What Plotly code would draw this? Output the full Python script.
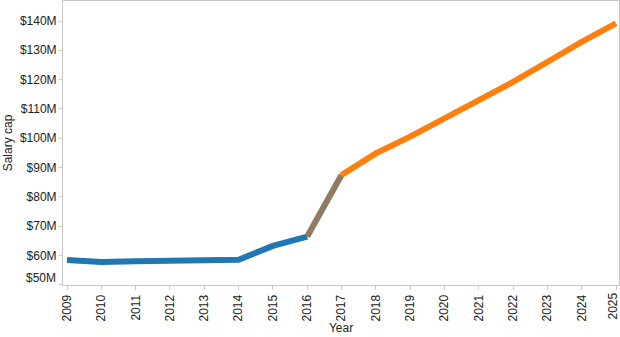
import plotly.graph_objects as go

years = [2009, 2010, 2011, 2012, 2013, 2014, 2015, 2016, 2017, 2018, 2019, 2020, 2021, 2022, 2023, 2024, 2025]
salary_cap_m = [58.4, 57.7, 58.0, 58.0, 58.0, 58.5, 63.2, 66.4, 87.4, 94.8, 100.5, 106.6, 112.6, 119.2, 126.0, 132.9, 139.2]
actual_end_year = 2016   # last year of the blue (actual) series
y_tickvals = [50, 60, 70, 80, 90, 100, 110, 120, 130, 140]
y_ticktext = ["$%dM" % v for v in y_tickvals]

BLUE = "#1f77b4"
ORANGE = "#ff7f0e"
MID = "#8f7b62"
FONT = "Liberation Sans, Arial, sans-serif"
TXT = "#222222"

i_end = years.index(actual_end_year)

fig = go.Figure()
fig.add_trace(go.Scatter(x=years[:i_end + 1], y=salary_cap_m[:i_end + 1], mode="lines",
                         line=dict(color=BLUE, width=6), hoverinfo="x+y", showlegend=False))
fig.add_trace(go.Scatter(x=years[i_end:i_end + 2], y=salary_cap_m[i_end:i_end + 2], mode="lines",
                         line=dict(color=MID, width=6), hoverinfo="skip", showlegend=False))
fig.add_trace(go.Scatter(x=years[i_end + 1:], y=salary_cap_m[i_end + 1:], mode="lines",
                         line=dict(color=ORANGE, width=6), hoverinfo="x+y", showlegend=False))

# lowest y label sits slightly above its tick (as in the reference)
fig.add_annotation(x=0, xref="paper", y=y_tickvals[0], yref="y", text=y_ticktext[0],
                   showarrow=False, xanchor="right", yanchor="middle",
                   xshift=-5, yshift=7, font=dict(family=FONT, size=12, color=TXT))
# last x label nudged left so it stays inside the picture (as in the reference)
fig.add_annotation(x=years[-1], xref="x", y=0, yref="paper", text=str(years[-1]),
                   textangle=-90, showarrow=False, xanchor="center", yanchor="top",
                   xshift=-4, yshift=-6, font=dict(family=FONT, size=12, color=TXT))

fig.update_layout(
    width=620, height=337,
    margin=dict(l=63, r=1, t=1, b=52),
    paper_bgcolor="white", plot_bgcolor="white",
    font=dict(family=FONT, size=12, color=TXT),
    showlegend=False,
)
fig.update_xaxes(
    automargin=False,
    range=[2008.883, 2025.087],
    tickmode="array", tickvals=years, ticktext=[str(y) for y in years[:-1]] + [""],
    tickangle=-90, ticks="outside", ticklen=4, tickcolor="#c8c8c8",
    showgrid=False, zeroline=False,
    showline=True, linecolor="#c8c8c8", linewidth=1, mirror=True,
    title=dict(text="Year", font=dict(size=12, color=TXT), standoff=3),
    tickfont=dict(size=12, color=TXT),
)
fig.update_yaxes(
    automargin=False,
    range=[49.86, 146.83],
    tickmode="array", tickvals=y_tickvals,
    ticktext=[""] + y_ticktext[1:],
    ticks="outside", ticklen=3, tickcolor="#c8c8c8",
    showgrid=False, zeroline=False,
    showline=True, linecolor="#c8c8c8", linewidth=1, mirror=True,
    title=dict(text="Salary cap", font=dict(size=12, color=TXT), standoff=4),
    tickfont=dict(size=12, color=TXT),
)

fig.write_html("out.html")
